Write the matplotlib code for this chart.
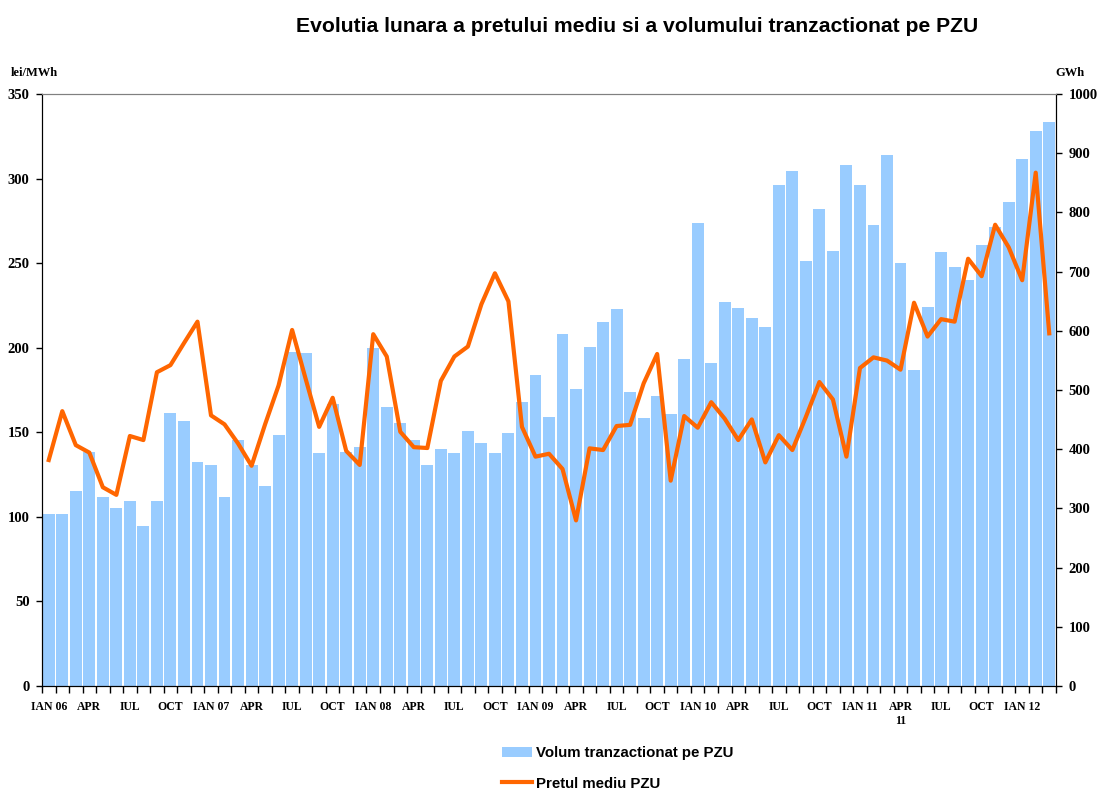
import matplotlib
matplotlib.use('Agg')

import numpy as np
import matplotlib.pyplot as plt

# monthly values, IAN 2006 .. MAR 2012
volum_gwh = [290, 290, 330, 396, 320, 300, 313, 271, 312, 461, 447, 379,
             374, 320, 415, 374, 338, 424, 565, 563, 394, 477, 396, 404,
             571, 472, 445, 415, 374, 401, 394, 430, 411, 393, 427, 480,
             526, 455, 594, 501, 573, 615, 636, 496, 452, 490, 460, 553,
             782, 545, 649, 639, 622, 607, 846, 870, 718, 806, 735, 880,
             846, 779, 897, 715, 534, 640, 733, 708, 685, 745, 775, 817,
             890, 938, 952]

pret_lei = [133.6, 162.5, 142.4, 138.0, 117.5, 113.0, 147.8, 145.4, 185.5, 189.7, 202.7, 215.4,
            160.0, 154.7, 143.4, 130.2, 154.7, 177.7, 210.5, 181.6, 153.2, 170.4, 139.0, 130.7,
            208.0, 194.8, 150.3, 141.2, 140.7, 180.4, 194.8, 200.7, 225.7, 244.0, 227.4, 153.2,
            135.6, 137.3, 128.3, 97.9, 140.5, 139.5, 153.7, 154.4, 178.9, 196.3, 121.4, 159.6,
            152.7, 167.8, 158.0, 145.4, 157.6, 132.2, 148.3, 139.5, 159.1, 179.7, 169.4, 135.6,
            188.0, 194.3, 192.4, 187.0, 226.6, 206.6, 216.9, 215.4, 252.6, 242.3, 272.7, 259.4,
            239.9, 303.5, 208.5]

tick_labels = ['IAN 06', 'APR', 'IUL', 'OCT', 'IAN 07', 'APR', 'IUL', 'OCT',
               'IAN 08', 'APR', 'IUL', 'OCT', 'IAN 09', 'APR', 'IUL', 'OCT',
               'IAN 10', 'APR', 'IUL', 'OCT', 'IAN 11', 'APR\n11', 'IUL', 'OCT',
               'IAN 12']

serif_bold = dict(family='Liberation Serif', weight='bold')

fig = plt.figure(figsize=(10.98, 7.90), dpi=100)
ax = fig.add_axes([42/1098., 104/790., 1014/1098., 592/790.])
ax2 = ax.twinx()

n = len(volum_gwh)
x = np.arange(n)

bars = ax.bar(x, volum_gwh, width=0.88, color='#99CCFF', linewidth=0,
              label='Volum tranzactionat pe PZU')
line, = ax2.plot(x, pret_lei, color='#FF6600', linewidth=3,
                 solid_joinstyle='round', label='Pretul mediu PZU')

ax.set_xlim(-0.5, n - 0.5)
ax.set_ylim(0, 1000)
ax2.set_ylim(0, 350)

# bars axis ticks on the right, price axis on the left
ax.yaxis.tick_right()
ax2.yaxis.tick_left()
ax.set_yticks(np.arange(0, 1001, 100))
ax2.set_yticks(np.arange(0, 351, 50))
for a in (ax, ax2):
    a.tick_params(axis='y', direction='out', length=4, width=1, pad=5)
    for lab in a.get_yticklabels():
        lab.set_fontproperties(serif_bold)
        lab.set_fontsize(10.5)

ax.set_xticks(np.arange(0, n, 3))
ax.set_xticklabels(tick_labels, **serif_bold, fontsize=8.5)
ax.set_xticks(np.arange(-0.5, n, 1), minor=True)
ax.tick_params(axis='x', which='major', length=0, pad=11)
ax.tick_params(axis='x', which='minor', direction='out', length=5, width=1)

for a in (ax, ax2):
    a.spines['top'].set_color('#808080')
    a.spines['left'].set_color('black')
    a.spines['right'].set_color('black')
    a.spines['bottom'].set_color('black')

fig.text(11/1098., 1 - 73/790., 'lei/MWh', fontsize=9, va='center', ha='left', **serif_bold)
fig.text(1055/1098., 1 - 73/790., 'GWh', fontsize=9, va='center', ha='left', **serif_bold)

fig.text(637/1098., 1 - 27/790., 'Evolutia lunara a pretului mediu si a volumului tranzactionat pe PZU',
         fontsize=15.2, fontweight='bold', family='Liberation Sans', ha='center', va='center')

fig.legend(handles=[bars, line], loc='upper left',
           bbox_to_anchor=(502/1098., 1 - 746/790.), frameon=False,
           prop=dict(family='Liberation Sans', weight='bold', size=10.8),
           handlelength=2.0, handletextpad=0.3, labelspacing=1.1,
           borderpad=0, borderaxespad=0)

fig.savefig('out.png', dpi=100)
